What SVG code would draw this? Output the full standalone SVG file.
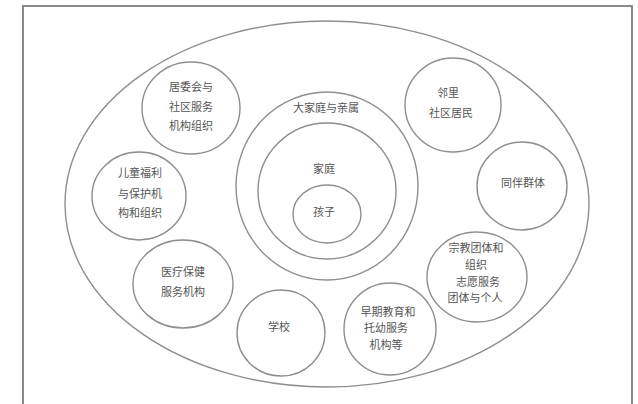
<svg xmlns="http://www.w3.org/2000/svg" width="638" height="404" viewBox="0 0 638 404">
<style>
.c{fill:none;stroke:#8e8e8e;stroke-width:1.4}
.t{font-family:"Noto Sans CJK SC","Liberation Sans",sans-serif;font-size:11px;fill:#555;text-anchor:middle}
</style>
<rect width="638" height="404" fill="#fff"/>
<path d="M23,404 V6 H632 V404" fill="none" stroke="#8a8a8a" stroke-width="2"/>
<g id="outer"><ellipse class="c" cx="327" cy="204" rx="262" ry="183"/></g>
<g id="ring"><ellipse class="c" cx="327" cy="186" rx="91" ry="94"/><text class="t" x="326" y="112">大家庭与亲属</text></g>
<g id="family"><ellipse class="c" cx="327" cy="191" rx="69" ry="68"/><text class="t" x="324" y="173">家庭</text></g>
<g id="child"><ellipse class="c" cx="327" cy="214" rx="34" ry="29"/><text class="t" x="324" y="216">孩子</text></g>
<g id="n1"><ellipse class="c" cx="191" cy="108" rx="49" ry="46"/><text class="t" x="191" y="91">居委会与</text><text class="t" x="191" y="111">社区服务</text><text class="t" x="191" y="130">机构组织</text></g>
<g id="n2"><ellipse class="c" cx="139" cy="196" rx="47" ry="44"/><text class="t" x="140" y="177">儿童福利</text><text class="t" x="140" y="198">与保护机</text><text class="t" x="140" y="217">构和组织</text></g>
<g id="n3"><ellipse class="c" cx="183" cy="284" rx="50" ry="44"/><text class="t" x="183" y="276">医疗保健</text><text class="t" x="183" y="296">服务机构</text></g>
<g id="n4"><ellipse class="c" cx="281" cy="333" rx="44" ry="43"/><text class="t" x="279" y="331">学校</text></g>
<g id="n5"><ellipse class="c" cx="390" cy="329" rx="46" ry="46"/><text class="t" x="388" y="316">早期教育和</text><text class="t" x="386" y="332">托幼服务</text><text class="t" x="386" y="349">机构等</text></g>
<g id="n6"><ellipse class="c" cx="477" cy="277" rx="50" ry="45"/><text class="t" x="476" y="252">宗教团体和</text><text class="t" x="476" y="269">组织</text><text class="t" x="478" y="286">志愿服务</text><text class="t" x="475" y="302">团体与个人</text></g>
<g id="n7"><ellipse class="c" cx="522" cy="186" rx="45" ry="44"/><text class="t" x="523" y="187">同伴群体</text></g>
<g id="n8"><ellipse class="c" cx="453" cy="105" rx="48" ry="47"/><text class="t" x="448" y="97">邻里</text><text class="t" x="451" y="117">社区居民</text></g>
</svg>
